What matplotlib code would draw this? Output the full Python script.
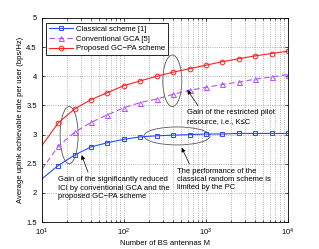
import numpy as np
import matplotlib.pyplot as plt
from matplotlib.patches import Ellipse

plt.rcParams['font.family'] = ['Liberation Sans', 'DejaVu Sans']
plt.rcParams['mathtext.fontset'] = 'custom'
plt.rcParams['mathtext.rm'] = 'Liberation Sans'

# number of BS antennas, log spaced 10 ... 10^4
antennas = 10 ** np.arange(1.0, 4.01, 0.2)

classical = [2.24, 2.47, 2.65, 2.79, 2.86, 2.92, 2.96, 2.98,
             2.99, 3.00, 3.01, 3.01, 3.02, 3.02, 3.02, 3.02]
conventional = [2.40, 2.80, 3.04, 3.21, 3.34, 3.46, 3.55, 3.61,
                3.69, 3.76, 3.81, 3.86, 3.90, 3.95, 3.99, 4.03]
proposed = [2.81, 3.20, 3.44, 3.60, 3.72, 3.84, 3.92, 4.00,
            4.07, 4.13, 4.19, 4.25, 4.30, 4.35, 4.39, 4.43]

labels = ["Classical scheme [1]", "Conventional GCA [5]",
          "Proposed GC\u2212PA scheme"]

fs = 5.5

fig = plt.figure(figsize=(3.19, 2.49), dpi=100)
ax = fig.add_axes([0.131, 0.108, 0.772, 0.82])

mk = slice(1, None)
ax.semilogx(antennas, classical, '-', color='#2a4bff', lw=0.8,
            marker='s', ms=3.2, mfc='none', mew=0.7, markevery=mk,
            label=labels[0])
ax.semilogx(antennas, conventional, '--', color='#b84dff', lw=0.8,
            marker='^', ms=3.6, mfc='none', mew=0.7, markevery=mk,
            dashes=(5, 3), label=labels[1])
ax.semilogx(antennas, proposed, '-', color='#ff2020', lw=0.8,
            marker='o', ms=3.4, mfc='none', mew=0.7, markevery=mk,
            label=labels[2])

ax.set_xlim(10, 1e4)
ax.set_ylim(1.5, 5)
ax.set_yticks([1.5, 2, 2.5, 3, 3.5, 4, 4.5, 5])
ax.set_yticklabels(["1.5", "2", "2.5", "3", "3.5", "4", "4.5", "5"])
ax.tick_params(which='both', direction='in', labelsize=fs, length=2.5,
               width=0.5, top=True, right=True)
ax.tick_params(which='minor', length=1.5)
ax.grid(True, which='major', ls=':', color='#999999', lw=0.6)
ax.grid(True, which='minor', axis='x', ls=':', color='#999999', lw=0.6)
for s in ax.spines.values():
    s.set_linewidth(0.6)

ax.set_xlabel("Number of BS antennas M", fontsize=fs, labelpad=1)
ax.set_ylabel("Average uplink achievable rate per user (bps/Hz)",
              fontsize=fs, labelpad=2)

leg = ax.legend(loc='upper left', fontsize=fs, fancybox=False,
                edgecolor='black', framealpha=1, handlelength=3.2,
                handletextpad=0.4, borderpad=0.4, labelspacing=0.3,
                borderaxespad=0, bbox_to_anchor=(0.016, 0.977))
leg.get_frame().set_linewidth(0.6)

# ellipses marking the gains
for cx, cy, w, h in [(0.111, 0.426, 0.073, 0.28),
                     (0.530, 0.692, 0.077, 0.253),
                     (0.549, 0.422, 0.268, 0.088)]:
    ax.add_patch(Ellipse((cx, cy), w, h, transform=ax.transAxes,
                         fill=False, ec='#555555', lw=0.6))

arrow = dict(arrowstyle='-|>', color='black', lw=0.5, mutation_scale=6,
             shrinkA=1, shrinkB=0)

# va='baseline' puts the last line's baseline at xytext
ax.annotate("Gain of the significantly reduced\nICI by conventional GCA and the\nproposed GC\u2212PA scheme",
            xy=(0.162, 0.328), xytext=(0.067, 0.119),
            xycoords='axes fraction', textcoords='axes fraction',
            fontsize=fs, ha='left', va='baseline', linespacing=1.25,
            arrowprops=dict(arrow, relpos=(0.28, 1.0)))
ax.annotate("Gain of the restricted pilot\nresource, i.e., K\u2264C",
            xy=(0.591, 0.647), xytext=(0.591, 0.487),
            xycoords='axes fraction', textcoords='axes fraction',
            fontsize=fs, ha='left', va='baseline', linespacing=1.25,
            arrowprops=dict(arrow, relpos=(0.15, 1.0)))
ax.annotate("The performance of the\nclassical random scheme is\nlimited by the PC",
            xy=(0.568, 0.364), xytext=(0.55, 0.160),
            xycoords='axes fraction', textcoords='axes fraction',
            fontsize=fs, ha='left', va='baseline', linespacing=1.25,
            arrowprops=dict(arrow, relpos=(0.15, 1.0)))

fig.savefig("out.png", dpi=100)
